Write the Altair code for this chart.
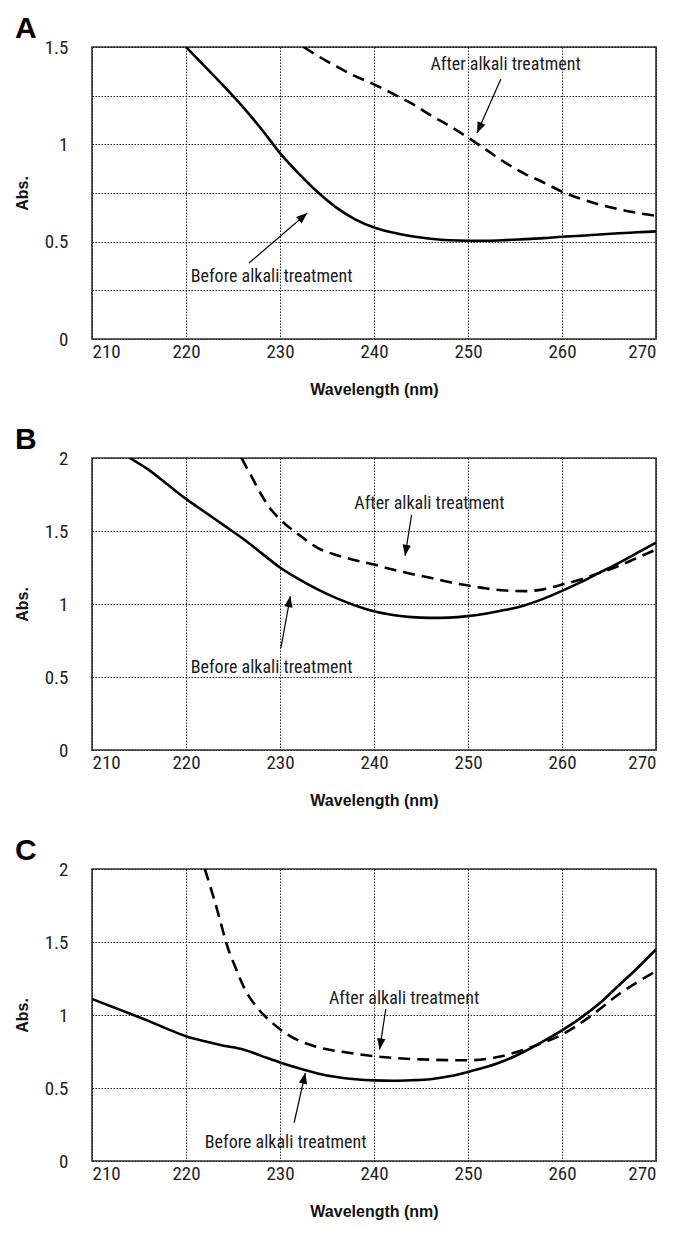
import math
import altair as alt
import pandas as pd

# ---------------- data ----------------
X_TICKS = [210, 220, 230, 240, 250, 260, 270]
LABEL_AFTER = "After alkali treatment"
LABEL_BEFORE = "Before alkali treatment"

# Panel A
a_before_x = [220, 222, 224, 226, 228, 230, 232, 234, 236, 238, 240, 242, 244, 246, 248,
              250, 252, 254, 256, 258, 260, 262, 264, 266, 268, 270]
a_before_y = [1.5, 1.40, 1.30, 1.195, 1.08, 0.955, 0.85, 0.755, 0.675, 0.615, 0.573, 0.547,
              0.528, 0.515, 0.507, 0.505, 0.505, 0.508, 0.513, 0.518, 0.525, 0.53, 0.537,
              0.543, 0.548, 0.553]
a_after_x = [232.5, 234, 236, 238, 240, 242, 244, 246, 248, 250, 252, 254, 256, 258, 260,
             262, 264, 266, 268, 270]
a_after_y = [1.5, 1.455, 1.40, 1.35, 1.308, 1.26, 1.21, 1.15, 1.095, 1.035, 0.97, 0.905,
             0.85, 0.805, 0.757, 0.72, 0.69, 0.667, 0.648, 0.633]

# Panel B
b_before_x = [214, 216, 218, 220, 222, 224, 226, 228, 230, 232, 234, 236, 238, 240, 242,
              244, 246, 248, 250, 252, 254, 256, 258, 260, 262, 264, 266, 268, 270]
b_before_y = [2.0, 1.92, 1.82, 1.72, 1.63, 1.54, 1.45, 1.35, 1.25, 1.17, 1.10, 1.04, 0.99,
              0.95, 0.925, 0.91, 0.905, 0.907, 0.917, 0.935, 0.96, 0.99, 1.035, 1.09, 1.15,
              1.215, 1.28, 1.35, 1.42]
b_after_x = [225.9, 227, 228, 229.2, 230, 232, 234, 236, 238, 240, 242, 244, 246, 248, 250,
             252, 254, 256, 258, 260, 262, 264, 266, 268, 270]
b_after_y = [2.0, 1.87, 1.75, 1.635, 1.58, 1.475, 1.385, 1.335, 1.30, 1.27, 1.236, 1.206,
             1.18, 1.15, 1.127, 1.106, 1.092, 1.088, 1.10, 1.133, 1.168, 1.213, 1.26, 1.316,
             1.373]

# Panel C
c_before_x = [210, 212, 214, 216, 218, 220, 222, 224, 226, 228, 230, 232, 234, 236, 238,
              240, 242, 244, 246, 248, 250, 252, 254, 256, 258, 260, 262, 264, 266, 268, 270]
c_before_y = [1.11, 1.06, 1.01, 0.96, 0.905, 0.855, 0.82, 0.79, 0.765, 0.72, 0.675, 0.635,
              0.60, 0.575, 0.56, 0.552, 0.55, 0.553, 0.56, 0.58, 0.61, 0.645, 0.69, 0.75,
              0.82, 0.895, 0.98, 1.08, 1.20, 1.32, 1.45]
c_after_x = [222.0, 222.96, 223.66, 224.35, 225.3, 226.2, 227.6, 229.2, 230.8, 233.6, 237.3,
             240, 245, 250, 253, 256, 258, 260, 263, 266, 270]
c_after_y = [2.0, 1.80, 1.64, 1.48, 1.32, 1.185, 1.048, 0.945, 0.866, 0.787, 0.741, 0.718,
             0.696, 0.69, 0.71, 0.764, 0.81, 0.866, 0.99, 1.14, 1.30]

# annotations: [after, before]
a_text_x, a_text_y = [254.0, 229.1], [1.408, 0.319]
a_arrow_x1, a_arrow_y1 = [253.5, 226.7], [1.336, 0.39]
a_arrow_x2, a_arrow_y2 = [250.96, 232.9], [1.058, 0.647]

b_text_x, b_text_y = [245.9, 229.1], [1.685, 0.563]
b_arrow_x1, b_arrow_y1 = [244.0, 230.1], [1.61, 0.70]
b_arrow_x2, b_arrow_y2 = [243.3, 231.1], [1.33, 1.054]

c_text_x, c_text_y = [243.2, 230.6], [1.113, 0.125]
c_arrow_x1, c_arrow_y1 = [241.25, 231.5], [1.04, 0.262]
c_arrow_x2, c_arrow_y2 = [240.6, 232.7], [0.764, 0.604]

PANELS = [
    ("A", 1.5, a_before_x, a_before_y, a_after_x, a_after_y,
     a_text_x, a_text_y, a_arrow_x1, a_arrow_y1, a_arrow_x2, a_arrow_y2),
    ("B", 2.0, b_before_x, b_before_y, b_after_x, b_after_y,
     b_text_x, b_text_y, b_arrow_x1, b_arrow_y1, b_arrow_x2, b_arrow_y2),
    ("C", 2.0, c_before_x, c_before_y, c_after_x, c_after_y,
     c_text_x, c_text_y, c_arrow_x1, c_arrow_y1, c_arrow_x2, c_arrow_y2),
]

# ---------------- style ----------------
W, H = 564, 292
XMIN, XMAX = 210, 270
NARROW = "Liberation Sans Narrow, Arial Narrow, Roboto Condensed, Liberation Sans, sans-serif"
BOLD = "Liberation Sans, Arial, sans-serif"
ARROW = "M0,0L-0.42,1.1L0.42,1.1Z"


def panel(letter, ymax, bx, by, ax, ay, tx, ty, x1, y1, x2, y2):
    xs = alt.Scale(domain=[XMIN, XMAX], nice=False, zero=False)
    ys = alt.Scale(domain=[0, ymax], nice=False)
    yvals = [i * 0.25 for i in range(int(round(ymax / 0.25)) + 1)]

    curves = pd.DataFrame(
        {"wl": bx + ax, "abs": by + ay,
         "series": ["before"] * len(bx) + ["after"] * len(ax)}
    )
    common = dict(
        grid=True, ticks=False, domain=False,
        labelFont=NARROW, labelFontSize=19, labelColor="#222222",
        titleFont=BOLD, titleFontSize=16, titleFontWeight="bold", titleColor="#111111",
        gridColor="#1a1a1a", gridDash=[1.5, 1.5], gridWidth=1, gridOpacity=0.95,
    )
    base_x = alt.X("wl:Q", scale=xs, axis=alt.Axis(
        values=X_TICKS, title="Wavelength (nm)",
        labelPadding=3, titleY=50, titleBaseline="middle", **common))
    base_y = alt.Y("abs:Q", scale=ys, axis=alt.Axis(
        values=yvals, title="Abs.",
        labelExpr="datum.value % 0.5 === 0 ? format(datum.value, '~g') : ''",
        labelPadding=24, titleX=-70, titleY=H / 2, titleAngle=270,
        titleAlign="center", titleBaseline="middle", **common))

    solid = alt.Chart(curves).transform_filter(alt.datum.series == "before").mark_line(
        color="black", strokeWidth=2.6, clip=True, interpolate="monotone"
    ).encode(x=base_x, y=base_y)
    dashed = alt.Chart(curves).transform_filter(alt.datum.series == "after").mark_line(
        color="black", strokeWidth=2.6, strokeDash=[12, 7], clip=True, interpolate="monotone"
    ).encode(x="wl:Q", y="abs:Q")

    sx = W / (XMAX - XMIN)
    sy = H / ymax
    angles = []
    for i in range(len(x1)):
        dx = (x2[i] - x1[i]) * sx
        dy = -(y2[i] - y1[i]) * sy
        angles.append((math.degrees(math.atan2(dx, -dy)) + 360) % 360)
    ann = pd.DataFrame({"tx": tx, "ty": ty, "x1": x1, "y1": y1, "x2": x2, "y2": y2,
                        "ang": angles, "label": [LABEL_AFTER, LABEL_BEFORE]})

    texts = alt.Chart(ann).mark_text(
        font=NARROW, fontSize=18, color="#1a1a1a", align="center", baseline="middle"
    ).encode(x="tx:Q", y="ty:Q", text="label:N")
    shafts = alt.Chart(ann).mark_rule(color="black", strokeWidth=1.2).encode(
        x="x1:Q", y="y1:Q", x2="x2:Q", y2="y2:Q")
    heads = alt.Chart(ann).mark_point(
        shape=ARROW, filled=True, color="black", size=400, opacity=1
    ).encode(x="x2:Q", y="y2:Q", angle=alt.Angle("ang:Q", scale=None))

    tag = alt.Chart(pd.DataFrame({"t": [letter]})).mark_text(
        font=BOLD, fontSize=30, fontWeight="bold", color="black",
        align="left", baseline="alphabetic"
    ).encode(text="t:N", x=alt.value(-77), y=alt.value(-9))

    return alt.layer(solid, dashed, shafts, heads, texts, tag).properties(width=W, height=H)


charts = [panel(*p) for p in PANELS]
chart = alt.vconcat(*charts, spacing=26).configure_view(
    stroke="#333333", strokeWidth=1.6
)

chart.save("out.html", embed_options={"renderer": "svg", "actions": False})
